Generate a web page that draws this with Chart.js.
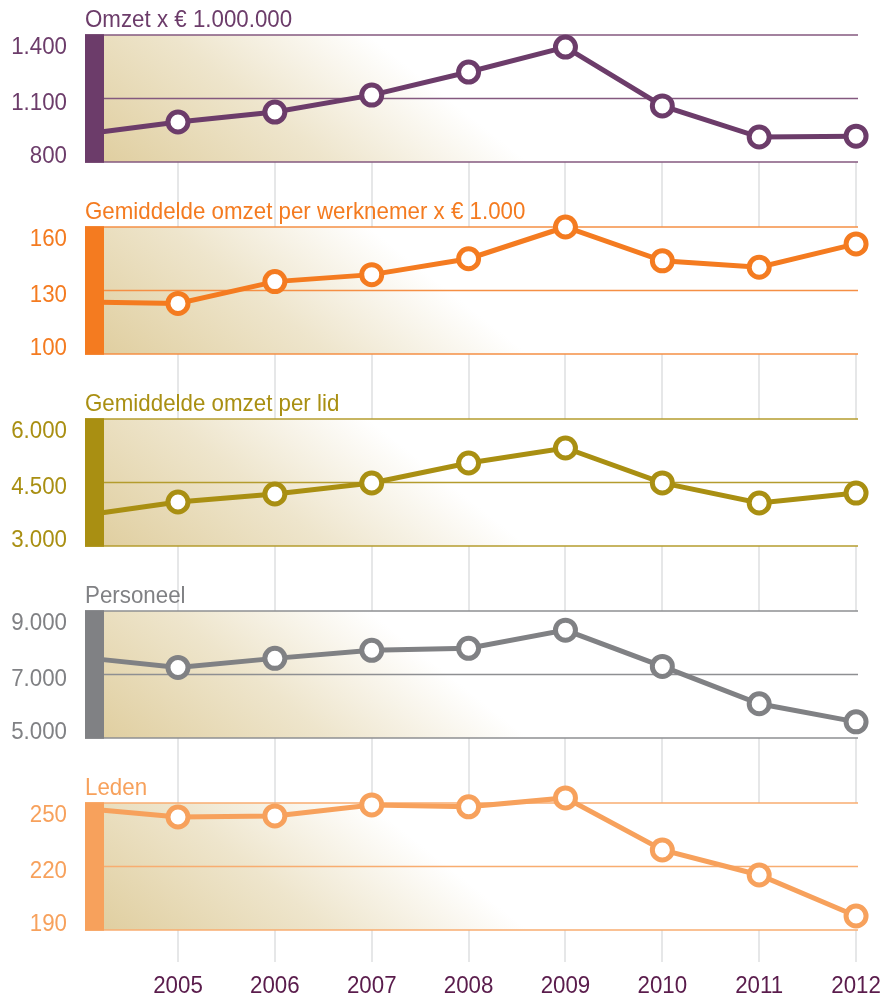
<!DOCTYPE html>
<html lang="nl">
  <head>
    <meta charset="UTF-8" />
    <title>Omzet, personeel en leden 2005-2012</title>
    <style>
      body {
        margin: 0;
        background: #fff;
      }
      #wrap {
        width: 896px;
        height: 999px;
        position: relative;
      }
    </style>
  </head>
  <body>
    <div id="wrap"><canvas id="chart"></canvas></div>
    <script src="https://cdn.jsdelivr.net/npm/chart.js@4.4.1/dist/chart.umd.min.js"></script>
    <script>
      const years = [2005, 2006, 2007, 2008, 2009, 2010, 2011, 2012];
      const startX = 2004.2; // the line comes in from the coloured bar

      // first value = start of the line at the bar, then 2005..2012
      const omzet = [942, 989, 1036, 1116, 1225, 1343, 1065, 918, 922];
      const omzetPerWerknemer = [124.4, 123.9, 134.2, 137.5, 145, 160, 144, 141, 152];
      const omzetPerLid = [3780, 4040, 4228, 4488, 4960, 5315, 4490, 4015, 4250];
      const personeel = [7476, 7222, 7508, 7762, 7825, 8397, 7254, 6079, 5508];
      const leden = [246.7, 243.4, 243.9, 249.1, 248.2, 252.4, 227.8, 216, 196.6];

      const titles = [
        "Omzet x € 1.000.000",
        "Gemiddelde omzet per werknemer x € 1.000",
        "Gemiddelde omzet per lid",
        "Personeel",
        "Leden",
      ];
      const yTicks = [
        [800, 1100, 1400],
        [100, 130, 160],
        [3000, 4500, 6000],
        [5000, 7000, 9000],
        [190, 220, 250],
      ];
      const yTickLabels = [
        ["800", "1.100", "1.400"],
        ["100", "130", "160"],
        ["3.000", "4.500", "6.000"],
        ["5.000", "7.000", "9.000"],
        ["190", "220", "250"],
      ];

      const colors = ["#6c3c6a", "#f47b20", "#a98f12", "#808184", "#f7a15c"];
      const gridColors = ["#84597f", "#f58f45", "#b49c2e", "#8e8f92", "#f8ad70"];
      const series = [omzet, omzetPerWerknemer, omzetPerLid, personeel, leden];
      const xs = [startX, ...years];

      const PANEL = 127;
      const GAP = 65;
      const FONT = '"Liberation Sans", Arial, sans-serif';

      Chart.defaults.font.family = FONT;

      // condensed look: squeeze the text a bit horizontally
      const text = (ctx, str, x, y, align, color) => {
        ctx.save();
        ctx.font = "24px " + FONT;
        ctx.fillStyle = color;
        ctx.textAlign = align;
        ctx.textBaseline = "alphabetic";
        ctx.translate(x, y);
        ctx.scale(0.93, 1);
        ctx.fillText(str, 0, 0);
        ctx.restore();
      };

      const panels = {
        id: "panels",
        beforeDatasetsDraw(chart) {
          const { ctx, chartArea } = chart;
          const L = chartArea.left;
          const R = chartArea.right;
          yTicks.forEach((t, i) => {
            const s = chart.scales["y" + i];
            const top = s.getPixelForValue(t[2]);
            const bot = s.getPixelForValue(t[0]);
            ctx.save();
            const g = ctx.createLinearGradient(L, bot, L + 172, bot - 216);
            g.addColorStop(0, "#dfcd9d");
            g.addColorStop(0.55, "#eee5cc");
            g.addColorStop(1, "#ffffff");
            ctx.fillStyle = g;
            ctx.fillRect(L, top, R - L, bot - top);
            ctx.strokeStyle = gridColors[i];
            ctx.lineWidth = 1.5;
            t.forEach(v => {
              const y = s.getPixelForValue(v);
              ctx.beginPath();
              ctx.moveTo(L, y);
              ctx.lineTo(R, y);
              ctx.stroke();
            });
            ctx.restore();
          });
        },
        afterDatasetsDraw(chart) {
          const { ctx, chartArea } = chart;
          const L = chartArea.left;
          yTicks.forEach((t, i) => {
            const s = chart.scales["y" + i];
            const top = s.getPixelForValue(t[2]);
            const mid = s.getPixelForValue(t[1]);
            const bot = s.getPixelForValue(t[0]);
            ctx.save();
            ctx.fillStyle = colors[i];
            ctx.fillRect(L, top - 0.75, 19, bot - top + 1.5);
            ctx.restore();
            text(ctx, titles[i], L, top - 8, "left", colors[i]);
            text(ctx, yTickLabels[i][2], 67, top + 19, "right", colors[i]);
            text(ctx, yTickLabels[i][1], 67, mid + 11, "right", colors[i]);
            text(ctx, yTickLabels[i][0], 67, bot + 1, "right", colors[i]);
          });
          const x = chart.scales.x;
          years.forEach(y => text(ctx, String(y), x.getPixelForValue(y), 993, "center", "#5a1c4c"));
        },
      };

      const scales = {
        x: {
          type: "linear",
          min: 2004.04,
          max: 2012.02,
          afterBuildTicks: s => {
            s.ticks = years.map(v => ({ value: v }));
          },
          afterFit: s => {
            s.height = 69;
          },
          grid: { color: "#e6e7e8", lineWidth: 2, drawTicks: true, tickLength: 32 },
          border: { display: false },
          ticks: { display: false },
        },
      };
      yTicks.forEach((t, i) => {
        const lo = t[0];
        const hi = t[2];
        const gap = i < yTicks.length - 1 ? GAP : 0;
        scales["y" + i] = {
          type: "linear",
          position: "left",
          stack: "panels",
          stackWeight: PANEL + gap,
          weight: yTicks.length - i,
          min: lo - ((hi - lo) * gap) / PANEL,
          max: hi,
          ticks: { display: false },
          grid: { display: false },
          border: { display: false },
          afterFit: s => {
            s.width = 85;
          },
        };
      });

      new Chart(document.getElementById("chart"), {
        type: "line",
        data: {
          datasets: series.map((vals, i) => ({
            label: titles[i],
            data: vals.map((v, j) => ({ x: xs[j], y: v })),
            yAxisID: "y" + i,
            borderColor: colors[i],
            backgroundColor: "#fff",
            borderWidth: 5,
            pointRadius: c => (c.dataIndex === 0 ? 0 : 10),
            pointBorderWidth: 5,
            pointBackgroundColor: "#fff",
            pointBorderColor: colors[i],
            tension: 0,
            clip: false,
          })),
        },
        options: {
          responsive: true,
          maintainAspectRatio: false,
          animation: false,
          layout: { padding: { top: 35, right: 38, left: 0, bottom: 0 } },
          plugins: { legend: { display: false }, tooltip: { enabled: false } },
          scales,
        },
        plugins: [panels],
      });
    </script>
  </body>
</html>
